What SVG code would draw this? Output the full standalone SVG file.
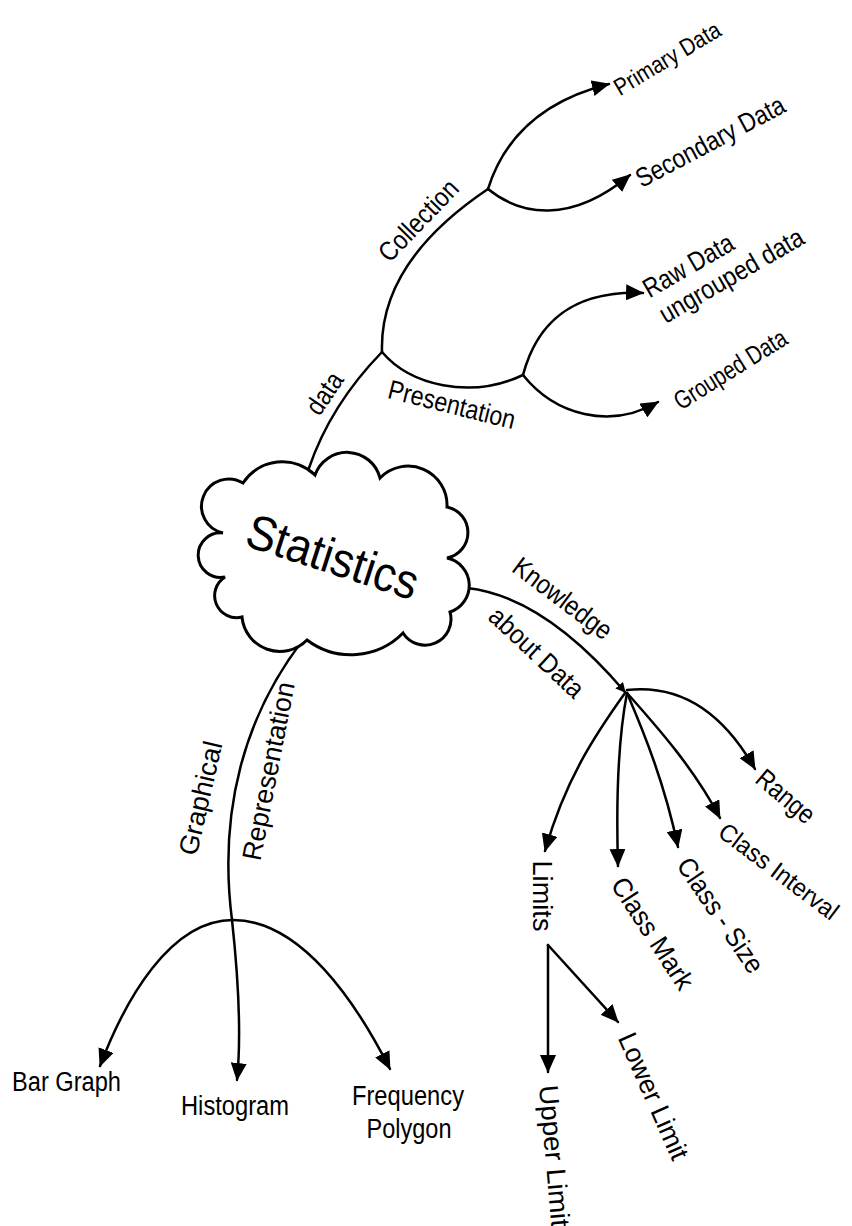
<svg xmlns="http://www.w3.org/2000/svg" width="852" height="1226" viewBox="0 0 852 1226">
<defs>
<marker id="ah" markerUnits="userSpaceOnUse" markerWidth="18" markerHeight="16" refX="17" refY="8" orient="auto">
<path d="M0,0 L18,8 L0,16 Z" fill="#000"/>
</marker>
<marker id="ahs" markerUnits="userSpaceOnUse" markerWidth="10" markerHeight="10" refX="9" refY="5" orient="auto">
<path d="M0,0 L10,5 L0,10 Z" fill="#000"/>
</marker>
</defs>
<style>
.c{fill:none;stroke:#000;stroke-width:2.5;stroke-linecap:round}
.a{marker-end:url(#ah)}
.t{font-family:"Liberation Sans",Arial,sans-serif;font-size:27px;fill:#000}
.m{text-anchor:middle}
</style>
<rect width="852" height="1226" fill="#fff"/>
<g id="connectors">
<path class="c" d="M309,468 C322,430 345,390 382,352"/>
<path class="c" d="M382,352 C380,290 418,236 488,189"/>
<path class="c a" d="M488,189 C505,135 545,100 609,84"/>
<path class="c a" d="M488,189 C520,215 570,225 630,175"/>
<path class="c" d="M382,352 C410,385 470,400 523,375"/>
<path class="c a" d="M523,375 C535,330 565,290 643,293"/>
<path class="c a" d="M523,375 C555,415 610,430 658,402"/>
<path class="c" d="M467,588 C530,595 585,645 625,692" style="marker-end:url(#ahs)"/>
<path class="c a" d="M627,690 C690,683 730,725 755,769"/>
<path class="c a" d="M627,693 C660,730 695,770 720,818"/>
<path class="c a" d="M627,693 C645,735 665,785 678,847"/>
<path class="c a" d="M627,693 C618,740 616,800 618,866"/>
<path class="c a" d="M625,693 C595,735 565,780 545,851"/>
<path class="c a" d="M548,945 L548,1072"/>
<path class="c a" d="M548,945 L618,1022"/>
<path class="c" d="M303,640 C245,715 218,810 232,920"/>
<path class="c a" d="M232,920 C238,975 242,1030 237,1080"/>
<path class="c a" d="M233,920 C170,920 125,1000 100,1066"/>
<path class="c a" d="M233,920 C300,920 355,1000 390,1069"/>
</g>
<g id="statistics">
<path d="M243,483 A47,47 0 0 1 315,475 A34,34 0 0 1 380,478 A39,39 0 0 1 447,507 A26,26 0 0 1 447,558 A28,28 0 0 1 450,612 A26,26 0 0 1 403,633 A73,73 0 0 1 307,640 A38,38 0 0 1 242,617 A22,22 0 0 1 225,577 A22.3,22.3 0 1 1 223,533 A27.3,27.3 0 1 1 243,483 Z" fill="#fff" stroke="#000" stroke-width="3" stroke-linejoin="miter"/>
<text class="t m" transform="translate(333,556) rotate(18)" dy="0.36em" style="font-size:49px" textLength="178" lengthAdjust="spacingAndGlyphs">Statistics</text>
</g>
<g id="edge-labels">
<text class="t m" transform="translate(324,393) rotate(-56)" dy="0.36em" textLength="45" lengthAdjust="spacingAndGlyphs">data</text>
<text class="t m" transform="translate(418,220) rotate(-46)" dy="0.36em" textLength="102" lengthAdjust="spacingAndGlyphs">Collection</text>
<text class="t m" transform="translate(452,404) rotate(14)" dy="0.36em" textLength="130" lengthAdjust="spacingAndGlyphs">Presentation</text>
<text class="t m" transform="translate(563,598) rotate(37)" dy="0.36em" textLength="117" lengthAdjust="spacingAndGlyphs">Knowledge</text>
<text class="t m" transform="translate(537,652) rotate(43)" dy="0.36em" textLength="119" lengthAdjust="spacingAndGlyphs">about Data</text>
<text class="t m" transform="translate(200,798) rotate(-77)" dy="0.36em" textLength="116" lengthAdjust="spacingAndGlyphs">Graphical</text>
<text class="t m" transform="translate(268,771) rotate(-79)" dy="0.36em" textLength="181" lengthAdjust="spacingAndGlyphs">Representation</text>
</g>
<g id="primary-data"><text class="t m" transform="translate(667,58) rotate(-31)" dy="0.36em" style="font-size:24px" textLength="120" lengthAdjust="spacingAndGlyphs">Primary Data</text></g>
<g id="secondary-data"><text class="t m" transform="translate(710,141) rotate(-28)" dy="0.36em" textLength="165" lengthAdjust="spacingAndGlyphs">Secondary Data</text></g>
<g id="raw-data">
<text class="t m" transform="translate(688,265) rotate(-30)" dy="0.36em" textLength="100" lengthAdjust="spacingAndGlyphs">Raw Data</text>
<text class="t m" transform="translate(731,275) rotate(-30)" dy="0.36em" textLength="162" lengthAdjust="spacingAndGlyphs">ungrouped data</text>
</g>
<g id="grouped-data"><text class="t m" transform="translate(730,369) rotate(-32)" dy="0.36em" style="font-size:26px" textLength="128" lengthAdjust="spacingAndGlyphs">Grouped Data</text></g>
<g id="range"><text class="t m" transform="translate(786,796) rotate(40)" dy="0.36em" textLength="68" lengthAdjust="spacingAndGlyphs">Range</text></g>
<g id="class-interval"><text class="t m" transform="translate(779,871) rotate(37)" dy="0.36em" style="font-size:25px" textLength="143" lengthAdjust="spacingAndGlyphs">Class Interval</text></g>
<g id="class-size"><text class="t m" transform="translate(721,915) rotate(56)" dy="0.36em" textLength="133" lengthAdjust="spacingAndGlyphs">Class - Size</text></g>
<g id="class-mark"><text class="t m" transform="translate(653,933) rotate(57)" dy="0.36em" textLength="128" lengthAdjust="spacingAndGlyphs">Class Mark</text></g>
<g id="limits"><text class="t m" transform="translate(543,896) rotate(90)" dy="0.36em" textLength="71" lengthAdjust="spacingAndGlyphs">Limits</text></g>
<g id="upper-limit"><text class="t m" transform="translate(555,1156) rotate(85)" dy="0.36em" textLength="142" lengthAdjust="spacingAndGlyphs">Upper Limit</text></g>
<g id="lower-limit"><text class="t m" transform="translate(654,1096) rotate(66)" dy="0.36em" textLength="136" lengthAdjust="spacingAndGlyphs">Lower Limit</text></g>
<g id="bar-graph"><text class="t" x="12" y="1091" textLength="109" lengthAdjust="spacingAndGlyphs">Bar Graph</text></g>
<g id="histogram"><text class="t" x="181" y="1115" textLength="108" lengthAdjust="spacingAndGlyphs">Histogram</text></g>
<g id="frequency-polygon">
<text class="t m" x="408" y="1105" textLength="112" lengthAdjust="spacingAndGlyphs">Frequency</text>
<text class="t m" x="409" y="1138" textLength="85" lengthAdjust="spacingAndGlyphs">Polygon</text>
</g>
</svg>
